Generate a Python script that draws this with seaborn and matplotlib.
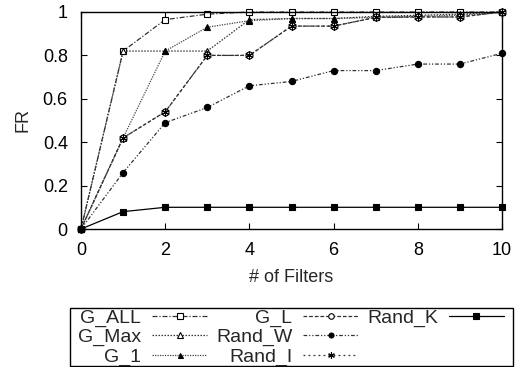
import numpy as np
import pandas as pd
import matplotlib
matplotlib.use("Agg")
import matplotlib.pyplot as plt
from matplotlib.lines import Line2D
from matplotlib.patches import Rectangle
import seaborn as sns

filters = [0, 1, 2, 3, 4, 5, 6, 7, 8, 9, 10]
g_all  = [0, 0.82, 0.965, 0.99, 1.0, 1.0, 1.0, 1.0, 1.0, 1.0, 1.0]
g_max  = [0, 0.82, 0.82, 0.82, 0.965, 0.97, 0.97, 0.98, 0.985, 0.99, 1.0]
g_1    = [0, 0.42, 0.82, 0.93, 0.96, 0.97, 0.97, 0.975, 0.98, 0.985, 1.0]
g_l    = [0, 0.42, 0.54, 0.80, 0.80, 0.935, 0.935, 0.975, 0.977, 0.977, 1.0]
rand_w = [0, 0.26, 0.49, 0.56, 0.66, 0.68, 0.73, 0.73, 0.76, 0.76, 0.81]
rand_i = [0, 0.42, 0.54, 0.80, 0.80, 0.935, 0.935, 0.975, 0.977, 0.977, 1.0]
rand_k = [0, 0.08, 0.10, 0.10, 0.10, 0.10, 0.10, 0.10, 0.10, 0.10, 0.10]

series_names = ["G_ALL", "G_Max", "G_1", "G_L", "Rand_W", "Rand_I", "Rand_K"]
series_vals = [g_all, g_max, g_1, g_l, rand_w, rand_i, rand_k]

sns.set_style("ticks")
plt.rcParams['font.family'] = ['Liberation Sans', 'DejaVu Sans']

styles = {
    "G_ALL":  dict(ls=(0, (4, 1.5, 1, 1.5)), marker="s", mfc="white", ms=5, color="#333333"),
    "G_Max":  dict(ls=(0, (1.2, 1.2)), marker="^", mfc="white", ms=5, color="#333333"),
    "G_1":    dict(ls=(0, (1, 1)), marker="^", mfc="black", ms=4.5, color="#444444"),
    "G_L":    dict(ls=(0, (3, 1.5)), marker="o", mfc="white", ms=5, color="#333333"),
    "Rand_W": dict(ls=(0, (3, 1.5, 1, 1.5, 1, 1.5)), marker="o", mfc="black", ms=4.5, color="#333333"),
    "Rand_I": dict(ls=(0, (1.5, 2.5)), marker=(6, 2, 0), mfc="black", ms=6, color="#333333"),
    "Rand_K": dict(ls="-", marker="s", mfc="black", ms=5, color="black"),
}

fig = plt.figure(figsize=(5.22, 3.67), dpi=100)
ax = fig.add_axes([81/522, 1-229/367, (502-81)/522, (229-12)/367])

for name, vals in zip(series_names, series_vals):
    df = pd.DataFrame({"x": filters, "y": vals})
    st = styles[name]
    sns.lineplot(data=df, x="x", y="y", ax=ax, label=name,
                 color=st["color"], linestyle=st["ls"], linewidth=0.9,
                 marker=st["marker"], markersize=st["ms"],
                 markerfacecolor=st["mfc"], markeredgecolor="black",
                 markeredgewidth=0.8, legend=False, clip_on=False)

ax.set_xlim(0, 10)
ax.set_ylim(0, 1)
ax.set_xticks([0, 2, 4, 6, 8, 10])
ax.set_yticks([0, 0.2, 0.4, 0.6, 0.8, 1.0])
ax.set_yticklabels(["0", "0.2", "0.4", "0.6", "0.8", "1"])
ax.tick_params(direction="in", top=True, right=True, length=4, width=0.8,
               labelsize=13, colors="black", pad=9.5)
for s in ax.spines.values():
    s.set_color("black")
    s.set_linewidth(1.0)
ax.set_xlabel("# of Filters", fontsize=13, labelpad=7)
ax.set_ylabel("FR", fontsize=13, labelpad=8)

handles, labels = ax.get_legend_handles_labels()
blank = Line2D([], [], linestyle="none", marker=None)
handles = handles + [blank, blank]
labels = labels + ["", ""]
leg = fig.legend(handles, labels, ncol=3, markerfirst=False,
                 loc="upper left",
                 bbox_to_anchor=(78/522, 1-309/367),
                 fontsize=14, labelspacing=0.08, handlelength=2.85,
                 handletextpad=0.55, columnspacing=0.45, borderpad=0.0,
                 borderaxespad=0, frameon=False, markerscale=0.8)

fig.patches.append(Rectangle((70/522, 1/367), 443/522, 58/367,
                             transform=fig.transFigure, fill=False,
                             edgecolor="black", linewidth=1.0))

fig.savefig("out.png", dpi=100)
